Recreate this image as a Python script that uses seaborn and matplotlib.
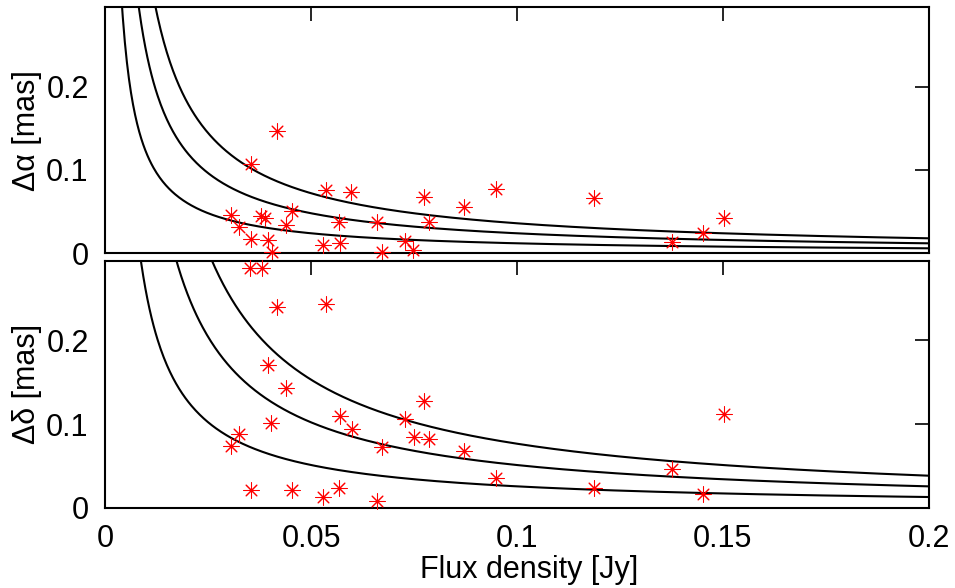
import numpy as np
import matplotlib
matplotlib.use('Agg')
import matplotlib.pyplot as plt
from matplotlib.ticker import FuncFormatter
import seaborn as sns

# flux density [Jy] and offsets [mas]
flux_ra = [0.0305, 0.0325, 0.0354, 0.0354, 0.0378, 0.0389, 0.0396, 0.0404, 0.0416, 0.0440,
           0.0454, 0.0529, 0.0537, 0.0568, 0.0570, 0.0596, 0.0660, 0.0671, 0.0727, 0.0748,
           0.0774, 0.0787, 0.0871, 0.0948, 0.1187, 0.1376, 0.1451, 0.1502]
d_ra = [0.046, 0.031, 0.107, 0.017, 0.045, 0.042, 0.016, 0.001, 0.147, 0.034,
        0.051, 0.010, 0.076, 0.038, 0.012, 0.073, 0.037, 0.002, 0.015, 0.004,
        0.067, 0.038, 0.055, 0.077, 0.066, 0.014, 0.024, 0.042]

flux_dec = [0.0305, 0.0325, 0.0351, 0.0354, 0.0380, 0.0396, 0.0402, 0.0416, 0.0440, 0.0454,
            0.0529, 0.0537, 0.0568, 0.0571, 0.0598, 0.0660, 0.0671, 0.0729, 0.0749, 0.0774,
            0.0786, 0.0871, 0.0948, 0.1187, 0.1376, 0.1451, 0.1502]
d_dec = [0.074, 0.088, 0.287, 0.021, 0.287, 0.171, 0.101, 0.240, 0.143, 0.021,
         0.013, 0.243, 0.024, 0.110, 0.094, 0.008, 0.072, 0.106, 0.084, 0.128,
         0.082, 0.068, 0.036, 0.023, 0.046, 0.016, 0.112]

# curve coefficients (offset = k / S)
k_ra = [0.0012, 0.0024, 0.0036]
k_dec = [0.00255, 0.0051, 0.00765]

xticks = [0, 0.05, 0.1, 0.15, 0.2]
yticks = [0, 0.1, 0.2]

sns.set_style('white', {
    'xtick.direction': 'in', 'ytick.direction': 'in',
    'xtick.top': True, 'ytick.right': True,
    'axes.edgecolor': 'black', 'text.color': 'black',
    'axes.labelcolor': 'black', 'xtick.color': 'black', 'ytick.color': 'black',
})
plt.rcParams['font.family'] = ['Liberation Sans', 'DejaVu Sans']
plt.rcParams['font.size'] = 22

fig = plt.figure(figsize=(9.55, 5.88), dpi=100)
ax1 = fig.add_axes([0.1103, 0.5692, 0.8622, 0.4184])
ax2 = fig.add_axes([0.1103, 0.1366, 0.8622, 0.4195])

s_grid = np.linspace(0.001, 0.2, 800)

for ax, ks, xs, ys, lab in [(ax1, k_ra, flux_ra, d_ra, 'Δα [mas]'),
                             (ax2, k_dec, flux_dec, d_dec, 'Δδ [mas]')]:
    ax.patch.set_alpha(0)
    for k in ks:
        sns.lineplot(x=s_grid, y=k / s_grid, color='black', lw=1.5, ax=ax)
    sns.scatterplot(x=xs, y=ys, marker=(8, 2, 0), s=120, color='red',
                    edgecolor='red', linewidth=0.75, clip_on=False, zorder=5, ax=ax)
    ax.set_xlim(0, 0.2)
    ax.set_ylim(0, 0.295)
    ax.set_xticks(xticks)
    ax.set_yticks(yticks)
    ax.xaxis.set_major_formatter(FuncFormatter(lambda v, p: f'{v:g}'))
    ax.yaxis.set_major_formatter(FuncFormatter(lambda v, p: f'{v:g}'))
    ax.tick_params(which='both', length=10, width=1.2, pad=12, labelsize=22,
                   top=True, right=True, colors='black')
    for sp in ax.spines.values():
        sp.set_linewidth(1.5)
    ax.set_ylabel(lab, fontsize=22)
    ax.yaxis.set_label_coords(-0.095, 0.5)
    ax.yaxis.label.set_va('center')

ax1.tick_params(labelbottom=False)
ax2.set_xlabel('Flux density [Jy]', fontsize=22)
ax2.xaxis.set_label_coords(0.5146, -0.286)
ax2.xaxis.label.set_va('baseline')

fig.savefig('out.png', dpi=100)
